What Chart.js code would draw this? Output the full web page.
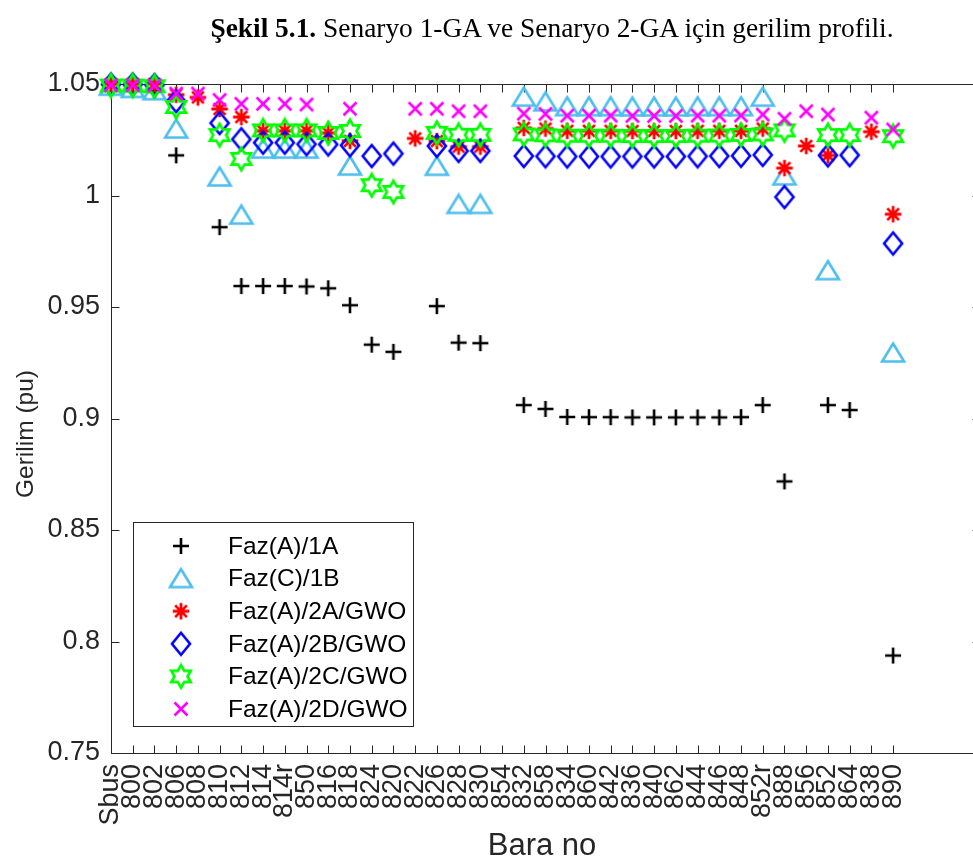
<!DOCTYPE html>
<html>
<head>
<meta charset="utf-8">
<script src="https://cdn.jsdelivr.net/npm/chart.js@4/dist/chart.umd.min.js"></script>
<style>
  html, body { margin: 0; padding: 0; background: #fff; }
  #wrap { position: relative; width: 973px; height: 864px; overflow: hidden; }
  #title {
    position: absolute; top: 13px; left: 0; width: 1104px;
    text-align: center; white-space: nowrap;
    font-family: 'Liberation Serif', 'Times New Roman', serif;
    font-size: 27.4px; color: #000;
  }
  canvas { position: absolute; left: 0; top: 0; }
</style>
</head>
<body>
<div id="wrap">
  <canvas id="chart" width="1010" height="864"></canvas>
  <div id="title"><b>Şekil 5.1.</b> Senaryo 1-GA ve Senaryo 2-GA için gerilim profili.</div>
</div>
<script>
// Bus names along the feeder
const busLabels = ['Sbus','800','802','806','808','810','812','814','814r','850','816','818','824','820','822','826','828','830','854','832','858','834','860','842','836','840','862','844','846','848','852r','888','856','852','864','838','890'];

// Voltage profiles (pu); null where a bus has no value
const faz1A = [1.050,1.0497,1.047,1.018,null,0.9858,0.9594,0.9594,0.9594,0.9592,0.9584,0.9508,0.9331,0.9299,null,0.9504,0.9340,0.9338,null,0.9060,0.9043,0.9007,0.9006,0.9006,0.9005,0.9005,0.9005,0.9005,0.9005,0.9006,0.9060,0.8718,null,0.9060,0.9038,null,0.7937];
const faz1B = [1.049,1.048,1.047,1.0298,null,1.0083,0.9912,1.0208,1.0208,1.0208,null,1.0132,null,null,null,1.0131,0.9960,0.9960,null,1.0441,1.0420,1.0398,1.0398,1.0398,1.0397,1.0397,1.0397,1.0398,1.0398,1.0398,1.0441,1.0088,null,0.9663,null,null,0.9294];
const faz2A = [1.050,1.050,1.050,1.0452,1.0440,1.0388,1.0352,1.0290,1.0290,1.0290,1.0280,1.0245,null,null,1.0256,1.0244,1.0219,1.0219,null,1.0303,1.0300,1.0290,1.0290,1.0290,1.0289,1.0289,1.0289,1.0290,1.0290,1.0290,1.0300,1.0123,1.0222,1.0180,null,1.0286,0.9916];
const faz2B = [1.0498,1.0498,1.0495,1.0423,null,1.0325,1.0252,1.0237,1.0237,1.0230,1.0229,1.0225,1.0177,1.0188,null,1.0222,1.0200,1.0200,null,1.0177,1.0176,1.0175,1.0175,1.0175,1.0175,1.0175,1.0175,1.0176,1.0177,1.0178,1.0182,0.9993,null,1.0180,1.0181,null,0.9785];
const faz2C = [1.0493,1.0493,1.0490,1.0397,null,1.0271,1.0164,1.0292,1.0292,1.0292,1.0280,1.0289,1.0046,1.0016,null,1.0281,1.0272,1.0272,null,1.0274,1.0270,1.0268,1.0268,1.0268,1.0267,1.0267,1.0267,1.0268,1.0269,1.0272,1.0274,1.0292,null,1.0271,1.0271,null,1.0266];
const faz2D = [1.0495,1.0495,1.0493,1.0457,1.0457,1.0428,1.0411,1.0411,1.0411,1.0408,null,1.0389,null,null,1.0389,1.0389,1.0378,1.0378,null,1.0367,1.0366,1.0358,1.0358,1.0358,1.0357,1.0357,1.0357,1.0358,1.0358,1.0359,1.0363,1.0344,1.0378,1.0363,null,1.0349,1.0296];

const seriesNames = ['Faz(A)/1A','Faz(C)/1B','Faz(A)/2A/GWO','Faz(A)/2B/GWO','Faz(A)/2C/GWO','Faz(A)/2D/GWO'];
const yTickValues = [0.75,0.8,0.85,0.9,0.95,1,1.05];

const FONT = '"Liberation Sans", Arial, sans-serif';

// ---- marker glyphs ----
function glyph(w, h, color, lw, draw) {
  const c = document.createElement('canvas');
  c.width = w; c.height = h;
  const g = c.getContext('2d');
  g.strokeStyle = color; g.lineWidth = lw; g.lineJoin = 'miter'; g.lineCap = 'butt';
  draw(g, w / 2, h / 2);
  return c;
}
const mPlus = glyph(20, 20, '#000000', 2.6, (g, cx, cy) => {
  g.beginPath(); g.moveTo(cx - 8, cy); g.lineTo(cx + 8, cy);
  g.moveTo(cx, cy - 8); g.lineTo(cx, cy + 8); g.stroke();
});
const mTri = glyph(28, 24, '#4DBEEE', 2.6, (g, cx, cy) => {
  g.beginPath(); g.moveTo(cx, cy - 9.5); g.lineTo(cx + 11, cy + 8.5); g.lineTo(cx - 11, cy + 8.5);
  g.closePath(); g.stroke();
});
const mStar = glyph(22, 22, '#FF0000', 2.8, (g, cx, cy) => {
  g.beginPath();
  for (let k = 0; k < 4; k++) {
    const a = k * Math.PI / 4, r = 8.3;
    g.moveTo(cx - r * Math.cos(a), cy - r * Math.sin(a));
    g.lineTo(cx + r * Math.cos(a), cy + r * Math.sin(a));
  }
  g.stroke();
});
const mDia = glyph(24, 28, '#0000FF', 2.6, (g, cx, cy) => {
  g.beginPath(); g.moveTo(cx, cy - 11); g.lineTo(cx + 9, cy); g.lineTo(cx, cy + 11); g.lineTo(cx - 9, cy);
  g.closePath(); g.stroke();
});
const mHex = glyph(28, 28, '#00FF00', 2.7, (g, cx, cy) => {
  const R = 11.2, r = R / Math.sqrt(3);
  g.beginPath();
  for (let k = 0; k < 12; k++) {
    const a = -Math.PI / 2 + k * Math.PI / 6;
    const rr = k % 2 === 0 ? R : r;
    const px = cx + rr * Math.cos(a), py = cy + rr * Math.sin(a);
    if (k === 0) g.moveTo(px, py); else g.lineTo(px, py);
  }
  g.closePath(); g.stroke();
});
const mX = glyph(18, 18, '#FF00FF', 2.6, (g, cx, cy) => {
  const d = 6.5;
  g.beginPath(); g.moveTo(cx - d, cy - d); g.lineTo(cx + d, cy + d);
  g.moveTo(cx + d, cy - d); g.lineTo(cx - d, cy + d); g.stroke();
});

const seriesValues = [faz1A, faz1B, faz2A, faz2B, faz2C, faz2D];
const seriesMarkers = [mPlus, mTri, mStar, mDia, mHex, mX];

function toPoints(vals) {
  const pts = [];
  vals.forEach((v, i) => { if (v !== null) pts.push({ x: i, y: v }); });
  return pts;
}

const datasets = seriesValues.map((vals, k) => ({
  label: seriesNames[k],
  data: toPoints(vals),
  pointStyle: seriesMarkers[k],
  pointRadius: 10,
  pointHoverRadius: 10,
  showLine: false,
  clip: false,
  order: 6 - k
}));

// Boxed axes with inward tick marks on all four sides
const axesFrame = {
  id: 'axesFrame',
  beforeDatasetsDraw(chart) {
    const { ctx, chartArea: a, scales: { x, y } } = chart;
    const L = Math.round(a.left) + 0.5, R = Math.round(a.right) + 0.5;
    const T = Math.round(a.top) + 0.5, B = Math.round(a.bottom) + 0.5;
    ctx.save();
    ctx.strokeStyle = '#262626';
    ctx.lineWidth = 1;
    ctx.beginPath();
    ctx.rect(L, T, R - L, B - T);
    const len = 8;
    x.ticks.forEach(t => {
      const px = Math.round(x.getPixelForValue(t.value)) + 0.5;
      ctx.moveTo(px, B); ctx.lineTo(px, B - len);
      ctx.moveTo(px, T); ctx.lineTo(px, T + len);
    });
    y.ticks.forEach(t => {
      const py = Math.round(y.getPixelForValue(t.value)) + 0.5;
      ctx.moveTo(L, py); ctx.lineTo(L + len, py);
      ctx.moveTo(R, py); ctx.lineTo(R - len, py);
    });
    ctx.stroke();
    ctx.restore();
  }
};

// Axis captions
const axisCaptions = {
  id: 'axisCaptions',
  afterDraw(chart) {
    const ctx = chart.ctx;
    ctx.save();
    ctx.fillStyle = '#262626';
    ctx.textAlign = 'center';
    ctx.textBaseline = 'middle';
    ctx.font = '31px ' + FONT;
    ctx.fillText('Bara no', 542, 846);
    ctx.translate(26, 434);
    ctx.rotate(-Math.PI / 2);
    ctx.font = '24.5px ' + FONT;
    ctx.fillText('Gerilim (pu)', 0, 0);
    ctx.restore();
  }
};

// Legend box drawn inside the plot area
const legendInside = {
  id: 'legendInside',
  afterDraw(chart) {
    const ctx = chart.ctx;
    const box = { left: 133.5, top: 522.5, right: 413.5, bottom: 726.5 };
    ctx.save();
    ctx.fillStyle = '#ffffff';
    ctx.fillRect(box.left, box.top, box.right - box.left, box.bottom - box.top);
    ctx.strokeStyle = '#262626';
    ctx.lineWidth = 1;
    ctx.strokeRect(box.left, box.top, box.right - box.left, box.bottom - box.top);
    ctx.font = '24.5px ' + FONT;
    ctx.fillStyle = '#000000';
    ctx.textBaseline = 'middle';
    ctx.textAlign = 'left';
    chart.data.datasets.forEach((ds, i) => {
      const yc = 546 + i * 32.6;
      const img = ds.pointStyle;
      ctx.drawImage(img, 181 - img.width / 2, yc - img.height / 2);
      ctx.fillText(ds.label, 228, yc + 1);
    });
    ctx.restore();
  }
};

Chart.defaults.font.family = FONT;
Chart.defaults.color = '#262626';

new Chart(document.getElementById('chart'), {
  type: 'scatter',
  data: { datasets },
  options: {
    responsive: false,
    animation: false,
    events: [],
    layout: { padding: { left: 0, right: 30, top: 84, bottom: 0 } },
    plugins: { legend: { display: false }, tooltip: { enabled: false } },
    scales: {
      x: {
        type: 'linear',
        min: 0,
        max: 40,
        afterBuildTicks: s => { s.ticks = busLabels.map((_, i) => ({ value: i })); },
        afterFit: s => { s.height = 111; s.paddingLeft = 0; s.paddingRight = 0; },
        ticks: {
          autoSkip: false,
          minRotation: 90,
          maxRotation: 90,
          padding: 11,
          font: { size: 27 },
          color: '#262626',
          callback: v => busLabels[v] ?? ''
        },
        grid: { display: false, drawTicks: false },
        border: { display: false }
      },
      y: {
        min: 0.75,
        max: 1.05,
        afterBuildTicks: s => { s.ticks = yTickValues.map(v => ({ value: v })); },
        afterFit: s => { s.width = 111; s.paddingTop = 0; s.paddingBottom = 0; },
        ticks: {
          padding: 11,
          font: { size: 27 },
          color: '#262626',
          callback: v => String(Number(v.toFixed(2)))
        },
        grid: { display: false, drawTicks: false },
        border: { display: false }
      }
    }
  },
  plugins: [axesFrame, axisCaptions, legendInside]
});
</script>
</body>
</html>
